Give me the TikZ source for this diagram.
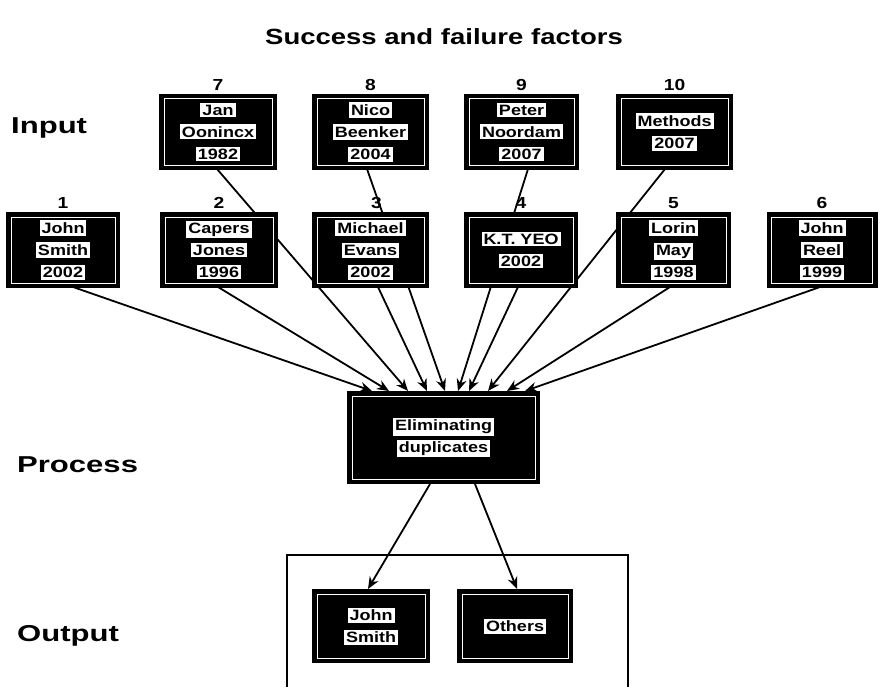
\documentclass[tikz,border=0pt]{standalone}
\usepackage{fontspec}
\setmainfont{Liberation Sans}
\newfontfamily\boxfont[FakeStretch=1.2]{Liberation Sans}
\newfontfamily\sidefont[FakeStretch=1.35]{Liberation Sans}
\newfontfamily\titlefont[FakeStretch=1.25]{Liberation Sans}
\usetikzlibrary{arrows.meta}
\newcommand{\wb}[1]{{\setlength{\fboxsep}{2pt}\colorbox{white}{#1}}}
\tikzset{
  ibox/.style={draw=black, line width=2pt, fill=black, minimum width=114pt, minimum height=74pt,
    inner sep=0pt, align=center, font=\boxfont\bfseries\fontsize{15}{22}\selectfont,
    path picture={\draw[white, line width=1pt]
      ([shift={(4pt,-4pt)}]path picture bounding box.north west) rectangle
      ([shift={(-4pt,4pt)}]path picture bounding box.south east);}},
  boxtext/.style={font=\boxfont\bfseries\fontsize{15}{22}\selectfont, align=center, inner sep=0pt},
  num/.style={font=\boxfont\bfseries\fontsize{16}{16}\selectfont, inner sep=0pt},
  side/.style={font=\sidefont\bfseries\fontsize{23}{23}\selectfont, anchor=west, inner sep=0pt},
  conn/.style={line width=1.8pt, -{Stealth[length=12pt,width=10pt]}}
}
\begin{document}
\begin{tikzpicture}[x=1pt, y=-1pt]
\useasboundingbox (0,0) rectangle (882,687);
% title and side labels
\node[font=\titlefont\bfseries\fontsize{22}{22}\selectfont] (title) at (444,37) {Success and failure factors};
\node[side] (lin) at (11,128) {Input};
\node[side] (lpr) at (17,465) {Process};
\node[side] (lout) at (17,636) {Output};
% output frame
\draw[line width=1.6pt] (287,687) -- (287,555) -- (628,555) -- (628,687);
% process and output boxes
\node[ibox, minimum width=191pt, minimum height=91pt] (pr) at (443.5,437.5) {};
\node[ibox, minimum width=116pt, minimum height=72pt] (o1) at (371,626) {};
\node[ibox, minimum width=114pt, minimum height=72pt] (o2) at (515,626) {};
% box centres
\path (218,132) coordinate (c7) (370.5,132) coordinate (c8) (521.5,132) coordinate (c9) (674.5,132) coordinate (c10)
      (63,250) coordinate (c1) (219,250) coordinate (c2) (370.5,250) coordinate (c3) (521,250) coordinate (c4)
      (673.5,250) coordinate (c5) (822,250) coordinate (c6);
% connectors (drawn before input boxes so the boxes cover them)
\draw[conn] ([shift={(10,37)}]c1) -- ([xshift=-71.5pt]pr.north);
\draw[conn] ([shift={(-1,37)}]c2) -- ([xshift=-54.5pt]pr.north);
\draw[conn] ([shift={(-1,37)}]c7) -- ([xshift=-35.5pt]pr.north);
\draw[conn] ([shift={(7.5,37)}]c3) -- ([xshift=-16.5pt]pr.north);
\draw[conn] ([shift={(-3.5,37)}]c8) -- ([xshift=1.5pt]pr.north);
\draw[conn] ([shift={(6.5,37)}]c9) -- ([xshift=14.5pt]pr.north);
\draw[conn] ([shift={(-3,37)}]c4) -- ([xshift=25.5pt]pr.north);
\draw[conn] ([shift={(-9.5,37)}]c10) -- ([xshift=44.5pt]pr.north);
\draw[conn] ([shift={(-3.5,37)}]c5) -- ([xshift=63.5pt]pr.north);
\draw[conn] ([shift={(-2,37)}]c6) -- ([xshift=81.5pt]pr.north);
% input boxes
\node[ibox, minimum width=116pt] (b7) at (c7) {\wb{Jan}\\ \wb{Oonincx}\\ \wb{1982}};
\node[ibox, minimum width=115pt] (b8) at (c8) {\wb{Nico}\\ \wb{Beenker}\\ \wb{2004}};
\node[ibox, minimum width=113pt] (b9) at (c9) {\wb{Peter}\\ \wb{Noordam}\\ \wb{2007}};
\node[ibox, minimum width=115pt] (b10) at (c10) {\wb{Methods}\\ \wb{2007}};
\node[ibox, minimum width=112pt] (b1) at (c1) {\wb{John}\\ \wb{Smith}\\ \wb{2002}};
\node[ibox, minimum width=116pt] (b2) at (c2) {\wb{Capers}\\ \wb{Jones}\\ \wb{1996}};
\node[ibox, minimum width=115pt] (b3) at (c3) {\wb{Michael}\\ \wb{Evans}\\ \wb{2002}};
\node[ibox, minimum width=112pt] (b4) at (c4) {\wb{K.T. YEO}\\ \wb{2002}};
\node[ibox, minimum width=113pt] (b5) at (c5) {\wb{Lorin}\\ \wb{May}\\ \wb{1998}};
\node[ibox, minimum width=109pt] (b6) at (c6) {\wb{John}\\ \wb{Reel}\\ \wb{1999}};
% numbers
\node[num, above=3pt] (n7) at (b7.north) {7};
\node[num, above=3pt] (n8) at (b8.north) {8};
\node[num, above=3pt] (n9) at (b9.north) {9};
\node[num, above=3pt] (n10) at (b10.north) {10};
\node[num, above=3pt] (n1) at (b1.north) {1};
\node[num, above=3pt] (n2) at (b2.north) {2};
\node[num, above=3pt] (n3) at ([xshift=6pt]b3.north) {3};
\node[num, above=3pt] (n4) at (b4.north) {4};
\node[num, above=3pt] (n5) at (b5.north) {5};
\node[num, above=3pt] (n6) at (b6.north) {6};
% process and output text
\node[boxtext] (prt) at (pr) {\wb{Eliminating}\\ \wb{duplicates}};
\node[boxtext] (o1t) at (o1) {\wb{John}\\ \wb{Smith}};
\node[boxtext] (o2t) at (o2) {\wb{Others}};
% output connectors
\draw[conn] ([xshift=-13.5pt]pr.south) -- ([xshift=-3pt]o1.north);
\draw[conn] ([xshift=31.5pt]pr.south) -- ([xshift=2pt]o2.north);
\end{tikzpicture}
\end{document}
